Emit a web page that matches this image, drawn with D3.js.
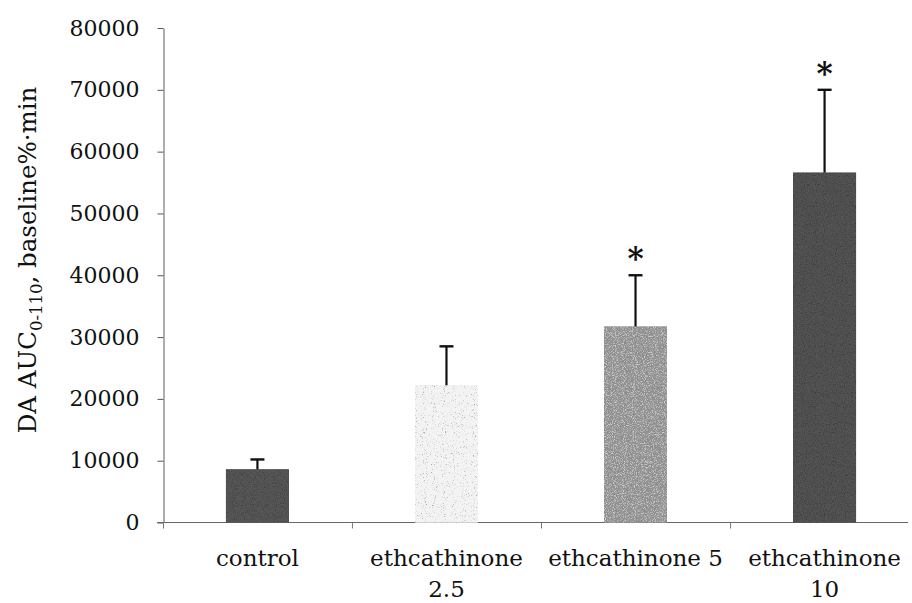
<!DOCTYPE html>
<html>
<head>
<meta charset="utf-8">
<script src="https://cdn.jsdelivr.net/npm/d3@7"></script>
<style>
  html, body { margin: 0; padding: 0; background: #fff; }
  svg { display: block; }
  text { font-family: "DejaVu Serif", "Liberation Serif", serif; fill: #111; }
</style>
</head>
<body>
<svg id="chart" width="912" height="603"></svg>
<script>
// Dopamine AUC (0-110 min) per treatment group
const groups = ["control", "ethcathinone 2.5", "ethcathinone 5", "ethcathinone 10"];
const groupLabelLines = [["control"], ["ethcathinone", "2.5"], ["ethcathinone 5"], ["ethcathinone", "10"]];
const aucMean = [8600, 22200, 31700, 56600];
const aucSEM = [1600, 6300, 8300, 13400];
const significant = [false, false, true, true];
const yTicks = [0, 10000, 20000, 30000, 40000, 50000, 60000, 70000, 80000];

// bar tones
const barTones = ["#565656", "#f3f3f3", "#8e8e8e", "#525252"];

const svg = d3.select("#chart");
const W = 912, H = 603;
const margin = { left: 163, top: 28, bottom: 81 };

const x = d3.scaleBand()
  .domain(groups)
  .range([margin.left, margin.left + 4 * 189])
  .paddingInner(0.667)
  .paddingOuter(0.333);

const y = d3.scaleLinear()
  .domain([0, 80000])
  .range([H - margin.bottom + 0.5, margin.top]);

// grain filters giving the bars a printed, speckled texture
const defs = svg.append("defs");
barTones.forEach((tone, i) => {
  const f = defs.append("filter")
    .attr("id", "grain" + i)
    .attr("x", 0).attr("y", 0).attr("width", 1).attr("height", 1);
  f.append("feTurbulence")
    .attr("type", "fractalNoise")
    .attr("baseFrequency", 0.9)
    .attr("numOctaves", 2)
    .attr("seed", 3 + i)
    .attr("result", "noise");
  f.append("feColorMatrix")
    .attr("in", "noise")
    .attr("type", "matrix")
    .attr("values", i === 1
      ? "0 0 0 0 0  0 0 0 0 0  0 0 0 0 0  -3.6 0 0 0 1.4"
      : "0 0 0 0 0  0 0 0 0 0  0 0 0 0 0  0 0 0 1.6 -0.75")
    .attr("result", "specks");
  const tint = i === 1 ? "#8a8a8a" : (i === 2 ? "#ffffff" : "#1a1a1a");
  f.append("feFlood").attr("flood-color", tint).attr("result", "tint");
  f.append("feComposite").attr("in", "tint").attr("in2", "specks")
    .attr("operator", "in").attr("result", "dots");
  f.append("feComposite").attr("in", "dots").attr("in2", "SourceGraphic")
    .attr("operator", "atop").attr("result", "dotted");
  const m = f.append("feMerge");
  m.append("feMergeNode").attr("in", "SourceGraphic");
  m.append("feMergeNode").attr("in", "dotted");
});

// y axis
const yAxis = d3.axisLeft(y).tickValues(yTicks).tickSize(6).tickSizeOuter(0).tickPadding(18)
  .tickFormat(d3.format("d"));
const gy = svg.append("g")
  .attr("transform", `translate(${margin.left + 0.5},0)`)
  .call(yAxis);
gy.select(".domain").attr("stroke", "#777").attr("stroke-width", 1.2);
gy.selectAll(".tick line").attr("stroke", "#555");
gy.selectAll(".tick text").attr("font-size", 22).attr("fill", "#111");

// x axis line with group separators
const y0 = y(0);
svg.append("line")
  .attr("x1", margin.left - 6).attr("x2", 908)
  .attr("y1", y0).attr("y2", y0)
  .attr("stroke", "#666").attr("stroke-width", 1.2);
const seps = groups.slice(1).map(g => x(g) - x.step() * x.paddingInner() / 2);
svg.selectAll(".sep").data([margin.left, ...seps]).join("line")
  .attr("x1", d => d + 0.5).attr("x2", d => d + 0.5)
  .attr("y1", y0).attr("y2", y0 + 6)
  .attr("stroke", "#777");

// bars
svg.selectAll(".bar").data(groups).join("rect")
  .attr("class", "bar")
  .attr("x", d => x(d))
  .attr("width", x.bandwidth())
  .attr("y", (d, i) => y(aucMean[i]))
  .attr("height", (d, i) => y(0) - y(aucMean[i]))
  .attr("fill", (d, i) => barTones[i])
  .attr("filter", (d, i) => `url(#grain${i})`);

// upper error bars
const err = svg.selectAll(".err").data(groups).join("g").attr("class", "err");
err.append("line")
  .attr("x1", d => x(d) + x.bandwidth() / 2).attr("x2", d => x(d) + x.bandwidth() / 2)
  .attr("y1", (d, i) => y(aucMean[i]))
  .attr("y2", (d, i) => y(aucMean[i] + aucSEM[i]))
  .attr("stroke", "#111").attr("stroke-width", 2.2);
err.append("line")
  .attr("x1", d => x(d) + x.bandwidth() / 2 - 7).attr("x2", d => x(d) + x.bandwidth() / 2 + 7)
  .attr("y1", (d, i) => y(aucMean[i] + aucSEM[i]))
  .attr("y2", (d, i) => y(aucMean[i] + aucSEM[i]))
  .attr("stroke", "#111").attr("stroke-width", 2.4);

// significance markers
svg.selectAll(".sig").data(groups.filter((g, i) => significant[i])).join("text")
  .attr("class", "sig")
  .attr("x", d => x(d) + x.bandwidth() / 2)
  .attr("y", d => { const i = groups.indexOf(d); return y(aucMean[i] + aucSEM[i]) - 6; })
  .attr("text-anchor", "middle")
  .attr("font-size", 31)
  .attr("font-weight", "bold")
  .text("*");

// category labels
const xl = svg.selectAll(".xl").data(groups).join("text")
  .attr("class", "xl")
  .attr("text-anchor", "middle")
  .attr("font-size", 23)
  .attr("transform", d => `translate(${x(d) + x.bandwidth() / 2},566)`);
xl.selectAll("tspan").data((d, i) => groupLabelLines[i]).join("tspan")
  .attr("x", 0)
  .attr("dy", (d, j) => j === 0 ? 0 : 31)
  .text(d => d);

// y axis title
const title = svg.append("text")
  .attr("transform", "translate(36,260) rotate(-90)")
  .attr("text-anchor", "middle")
  .attr("font-size", 24.5);
title.append("tspan").text("DA AUC");
title.append("tspan").attr("font-size", 16.5).attr("dy", 6).text("0-110");
title.append("tspan").attr("dy", -6).text(", baseline%\u00b7min");
</script>
</body>
</html>
